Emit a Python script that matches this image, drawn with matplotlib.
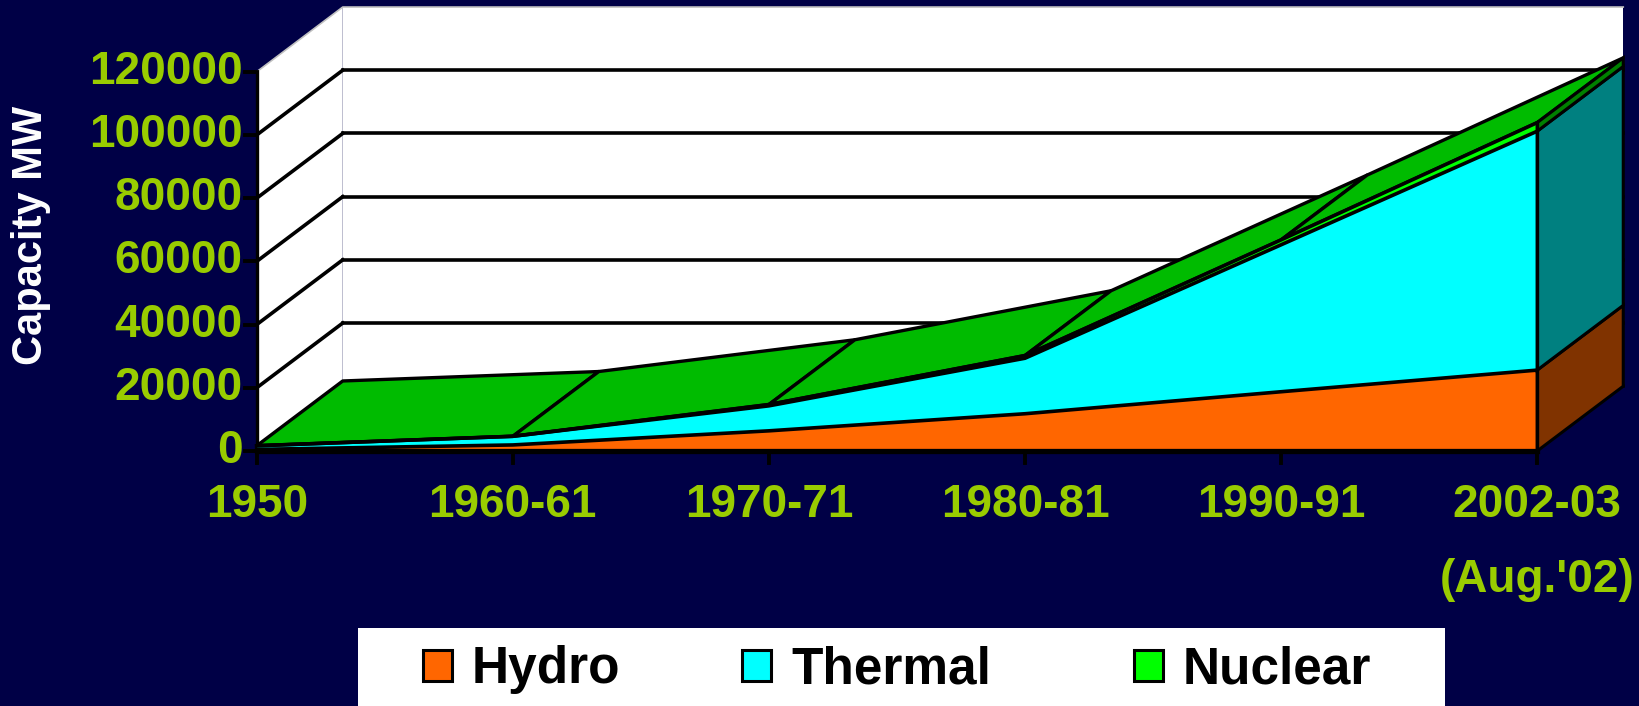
import numpy as np
import matplotlib
matplotlib.use("Agg")
import matplotlib.pyplot as plt
from matplotlib.patches import Polygon, Rectangle
from matplotlib.transforms import Affine2D

plt.rcParams["font.family"] = ["Liberation Sans", "DejaVu Sans"]

# ---- data (MW) ----
categories = ["1950", "1960-61", "1970-71", "1980-81", "1990-91", "2002-03\n(Aug.'02)"]
hydro = [508, 1917, 6383, 11791, 18753, 25600]
thermal = [1153, 2736, 7906, 17563, 46500, 75600]
nuclear = [0, 0, 420, 860, 1565, 2720]
series_names = ["Hydro", "Thermal", "Nuclear"]
y_ticks = [0, 20000, 40000, 60000, 80000, 100000, 120000]

# ---- style ----
front_colors = ["#FF6600", "#00FFFF", "#00FF00"]
side_colors = ["#803300", "#008080", "#008000"]
top_color = "#00BB00"
bg = "#000046"
tick_green = "#99CC00"

W, H = 1639, 706
fig = plt.figure(figsize=(W / 100, H / 100), dpi=100, facecolor=bg)
ax = fig.add_axes([0, 0, 1, 1])
ax.set_facecolor(bg)
ax.axis("off")

# calibration of the single full-figure axes
x0_px, x_step = 256.7, 256.1          # category 0 position, px per category
y0_px, y_scale = 451.0, 63.2 / 20000  # 0 MW position, px per MW
ax.set_xlim(-x0_px / x_step, (W - x0_px) / x_step)
ax.set_ylim((y0_px - H) / y_scale, y0_px / y_scale)

# pixel transform (origin top-left) for layout text
pix = Affine2D().scale(1 / W, -1 / H).translate(0, 1) + fig.transFigure

dx, dy = 0.336, 20500   # depth of the 3-D box
ymax = y_ticks[-1]
n = len(categories)
xs = np.arange(n)
xr = xs[-1]

# ---- walls ----
ax.add_patch(Polygon([(0, 0), (0, ymax), (dx, ymax + dy), (dx, dy)],
                     closed=True, fc="white", ec="none", zorder=1))
ax.add_patch(Rectangle((dx, dy), xr, ymax, fc="white", ec="none", zorder=1))
for v in y_ticks[:-1]:
    ax.plot([0, dx], [v, v + dy], color="black", lw=2.6, zorder=2)
    ax.plot([dx, xr + dx], [v + dy, v + dy], color="black", lw=2.6, zorder=2)
ax.plot([0, dx, xr + dx], [ymax, ymax + dy, ymax + dy], color="#C0C0C0", lw=1.2, zorder=2)

# y axis + ticks + labels
ax.plot([0, 0], [0, ymax], color="black", lw=2.4, zorder=3)
for v in y_ticks:
    ax.plot([-0.045, 0], [v, v], color="black", lw=2.8, zorder=3)
    ax.text(-0.055, v, str(v), ha="right", va="center", color=tick_green,
            fontsize=33, fontweight="bold")

# ---- stacked 3-D area ----
layers = np.vstack([hydro, thermal, nuclear]).astype(float)
cum = np.vstack([np.zeros(n), np.cumsum(layers, axis=0)])
total = cum[-1]

# top face of the stack
for i in range(n - 1):
    ax.add_patch(Polygon([(xs[i], total[i]), (xs[i + 1], total[i + 1]),
                          (xs[i + 1] + dx, total[i + 1] + dy), (xs[i] + dx, total[i] + dy)],
                         closed=True, fc=top_color, ec="black", lw=2.4, joinstyle="round", zorder=4))

# front faces
for k in range(3):
    ax.fill_between(xs, cum[k], cum[k + 1], color=front_colors[k], lw=0, zorder=5)
for k in range(1, 4):
    ax.plot(xs, cum[k], color="black", lw=2.6, zorder=6, solid_joinstyle="round")

# right side faces
for k in range(3):
    ax.add_patch(Polygon([(xr, cum[k][-1]), (xr, cum[k + 1][-1]),
                          (xr + dx, cum[k + 1][-1] + dy), (xr + dx, cum[k][-1] + dy)],
                         closed=True, fc=side_colors[k], ec="black", lw=2.2, zorder=6))
ax.plot([xr, xr], [0, total[-1]], color="black", lw=2.4, zorder=7)

# base line, x ticks, labels
ax.plot([0, xr], [0, 0], color="black", lw=3.8, zorder=7)
for x, lab in zip(xs, categories):
    ax.plot([x, x], [0, -12 / y_scale], color="black", lw=2.8, zorder=7)
    ax.text(x, (y0_px - 483) / y_scale, lab, ha="center", va="top", color=tick_green,
            fontsize=33, fontweight="bold", linespacing=1.9, multialignment="center")

# y label
fig.text(31, 235, "Capacity MW", transform=pix, rotation=90, ha="center", va="center",
         color="white", fontsize=30, fontweight="bold")

# ---- legend ----
fig.add_artist(Rectangle((357.5, 628), 1087.5, 120, transform=pix, fc="white", ec="none"))
legend_x = [423, 742, 1134]
for name, col, lx in zip(series_names, front_colors, legend_x):
    fig.add_artist(Rectangle((lx + 2, 652), 29, 31, transform=pix, fc="#808080", ec="none"))
    fig.add_artist(Rectangle((lx, 650), 29, 31, transform=pix, fc=col, ec="black", lw=2.2))
    fig.text(lx + 49, 683, name, transform=pix, ha="left", va="baseline",
             color="black", fontsize=37, fontweight="bold")

fig.savefig("out.png", dpi=100, facecolor=bg)
